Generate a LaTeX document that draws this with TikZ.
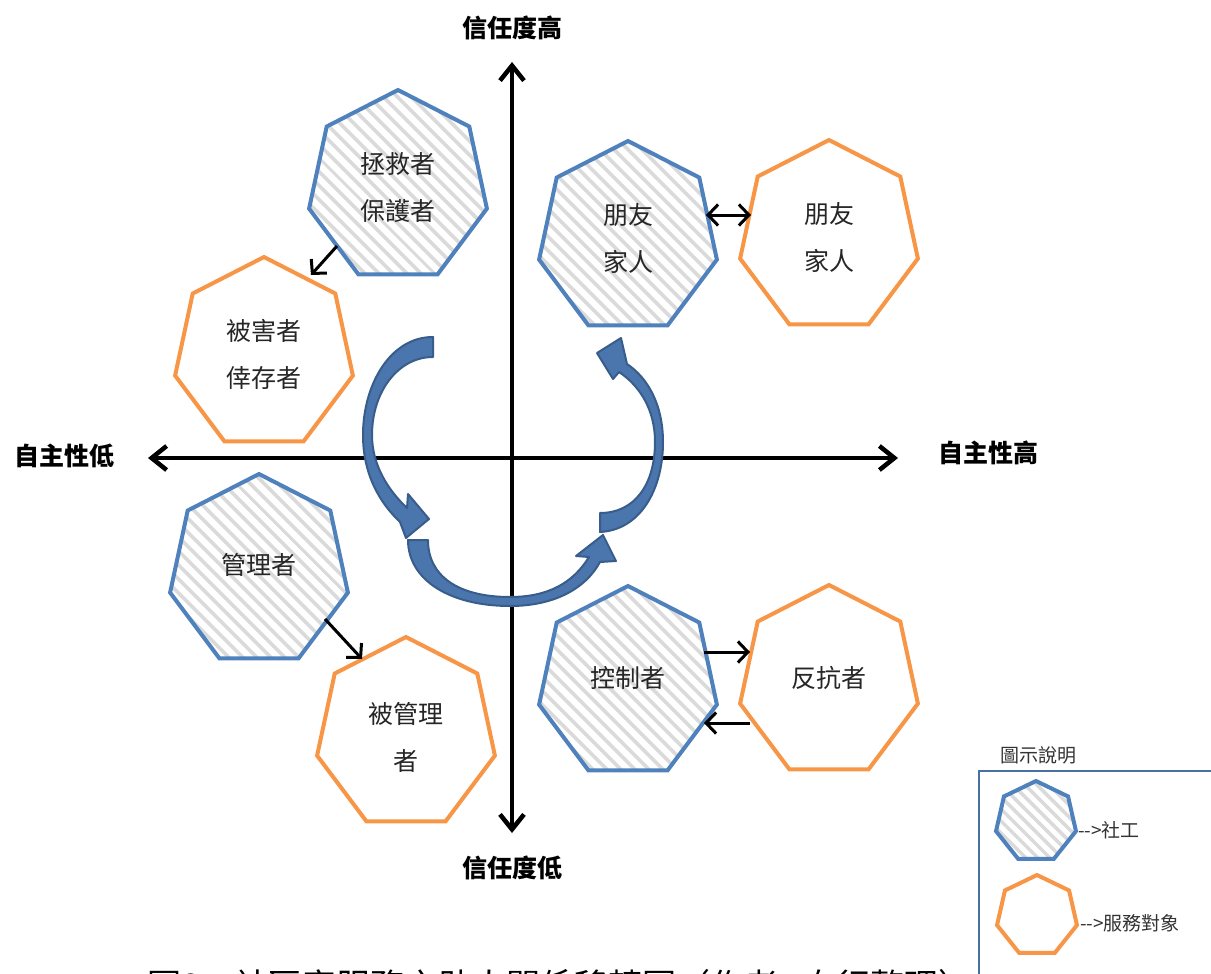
\documentclass[tikz,border=0pt]{standalone}
\usepackage{fontspec}
\newfontfamily\cjk{Noto Sans CJK TC}
\usetikzlibrary{shapes.geometric,arrows.meta,patterns.meta}
\definecolor{hblue}{HTML}{4F81BD}
\definecolor{horange}{HTML}{F79646}
\definecolor{afill}{HTML}{4A75AD}
\definecolor{aline}{HTML}{385D8A}
\definecolor{lgline}{HTML}{4A6FA5}
\definecolor{stripe}{HTML}{DADADA}
\begin{document}
\begin{tikzpicture}[x=1pt,y=-1pt,
  heptbase/.style={regular polygon, regular polygon sides=7, inner sep=0pt, line width=4pt},
  big/.style={heptbase, minimum size=194pt, xscale=0.94},
  small/.style={heptbase, minimum size=82pt},
  social/.style={draw=hblue, pattern={Lines[angle=-45,distance=10.5pt,line width=4pt]}, pattern color=stripe},
  client/.style={draw=horange, fill=white},
  lbl/.style={font=\cjk\fontsize{25}{47}\selectfont, align=center, text=black!85, inner sep=0pt},
  axl/.style={font=\cjk\bfseries\fontsize{25}{30}\selectfont, inner sep=0pt},
  lgt/.style={font=\cjk\fontsize{19}{22}\selectfont, text=black!80, inner sep=0pt, anchor=west},
  axis/.style={line width=4.5pt, {Straight Barb[length=15pt,width=24pt]}-{Straight Barb[length=15pt,width=24pt]}},
  conn/.style={line width=3pt, -{Straight Barb[length=10pt,width=21pt]}},
  dconn/.style={line width=3pt, {Straight Barb[length=10pt,width=21pt]}-{Straight Barb[length=10pt,width=21pt]}},
  carrow/.style={fill=afill, draw=aline, line width=2pt, line join=round}
]
\useasboundingbox (0,0) rectangle (1211,974);
\clip (0,0) rectangle (1211,974);

% axes
\coordinate (yt) at (512,62);
\coordinate (yb) at (512,833);
\coordinate (xl) at (148,458);
\coordinate (xr) at (898,458);
\draw[axis] (yb) -- (yt);
\draw[axis] (xl) -- (xr);
\node[axl] (ythigh) at (512,28) {信任度高};
\node[axl] (ytlow) at (512,868) {信任度低};
\node[axl] (xtlow) at (65,456) {自主性低};
\node[axl] (xthigh) at (988,453) {自主性高};

% curved block arrows
\filldraw[carrow] (433,337) .. controls (390,337) and (363,385) .. (363,435)
  .. controls (363,475) and (380,503) .. (400,522) -- (406,538) -- (429,519) -- (408,494) -- (407,508)
  .. controls (388,490) and (372,465) .. (372,435)
  .. controls (372,392) and (398,357) .. (433,357) -- cycle;
\filldraw[carrow] (408,540) .. controls (408,580) and (450,606) .. (510,606)
  .. controls (555,606) and (586,588) .. (600,562) -- (616,561) -- (603,535) -- (576,556) -- (589,557)
  .. controls (573,583) and (548,597) .. (510,597)
  .. controls (458,597) and (428,576) .. (428,540) -- cycle;
\filldraw[carrow] (600,532) .. controls (640,530) and (663,490) .. (663,442)
  .. controls (663,405) and (648,378) .. (627,364) -- (621,338) -- (597,353) -- (613,379) -- (619,372)
  .. controls (640,386) and (655,410) .. (655,442)
  .. controls (655,484) and (635,513) .. (600,513) -- cycle;

% heptagons
\node[big, social] (h1) at (398,187) {};
\node[big, client] (h2) at (264,354) {};
\node[big, social] (h3) at (628,238) {};
\node[big, client] (h4) at (829,237) {};
\node[big, social] (h5) at (259,571) {};
\node[big, client] (h6) at (406,734) {};
\node[big, social] (h7) at (628,683) {};
\node[big, client] (h8) at (829,682) {};

\node[lbl] (t1) at (398,187) {拯救者\\保護者};
\node[lbl] (t2) at (264,354) {被害者\\倖存者};
\node[lbl] (t3) at (628,238) {朋友\\家人};
\node[lbl] (t4) at (829,237) {朋友\\家人};
\node[lbl] (t5) at (259,565) {管理者};
\node[lbl] (t6) at (406,737) {被管理\\者};
\node[lbl] (t7) at (628,678) {控制者};
\node[lbl] (t8) at (829,678) {反抗者};

% small connectors
\coordinate (c1a) at (337,246); \coordinate (c1b) at (311,275);
\coordinate (c2a) at (706,215); \coordinate (c2b) at (751,215);
\coordinate (c3a) at (325,619); \coordinate (c3b) at (362,659);
\coordinate (c4a) at (704,652); \coordinate (c4b) at (750,652);
\coordinate (c5a) at (750,723); \coordinate (c5b) at (704,723);
\draw[conn] (c1a) -- (c1b);
\draw[dconn] (c2a) -- (c2b);
\draw[conn] (c3a) -- (c3b);
\draw[conn] (c4a) -- (c4b);
\draw[conn] (c5a) -- (c5b);

% legend
\draw[lgline, line width=1.5pt] (979,1000) -- (979,771) -- (1230,771);
\node[font=\cjk\fontsize{19}{22}\selectfont, text=black!80, inner sep=0pt, anchor=west] (lgtitle) at (1000,755) {圖示說明};
\node[small, draw=hblue, pattern={Lines[angle=-45,distance=8.5pt,line width=3.5pt]}, pattern color=stripe] (lg1) at (1036,822) {};
\node[small, client] (lg2) at (1037,916) {};
\node[lgt] (lg1t) at (1078,830) {-{}-{}>社工};
\node[lgt] (lg2t) at (1080,923) {-{}-{}>服務對象};

% caption (cut off at the bottom edge, as in the reference)
\node[font=\cjk\fontsize{34}{40}\selectfont, anchor=base west, inner sep=0pt] (cap) at (147,998) {圖8\hspace{34pt}社區家服務之助人關係移轉圖（作者\hspace{24pt}自行整理）};
\end{tikzpicture}
\end{document}
